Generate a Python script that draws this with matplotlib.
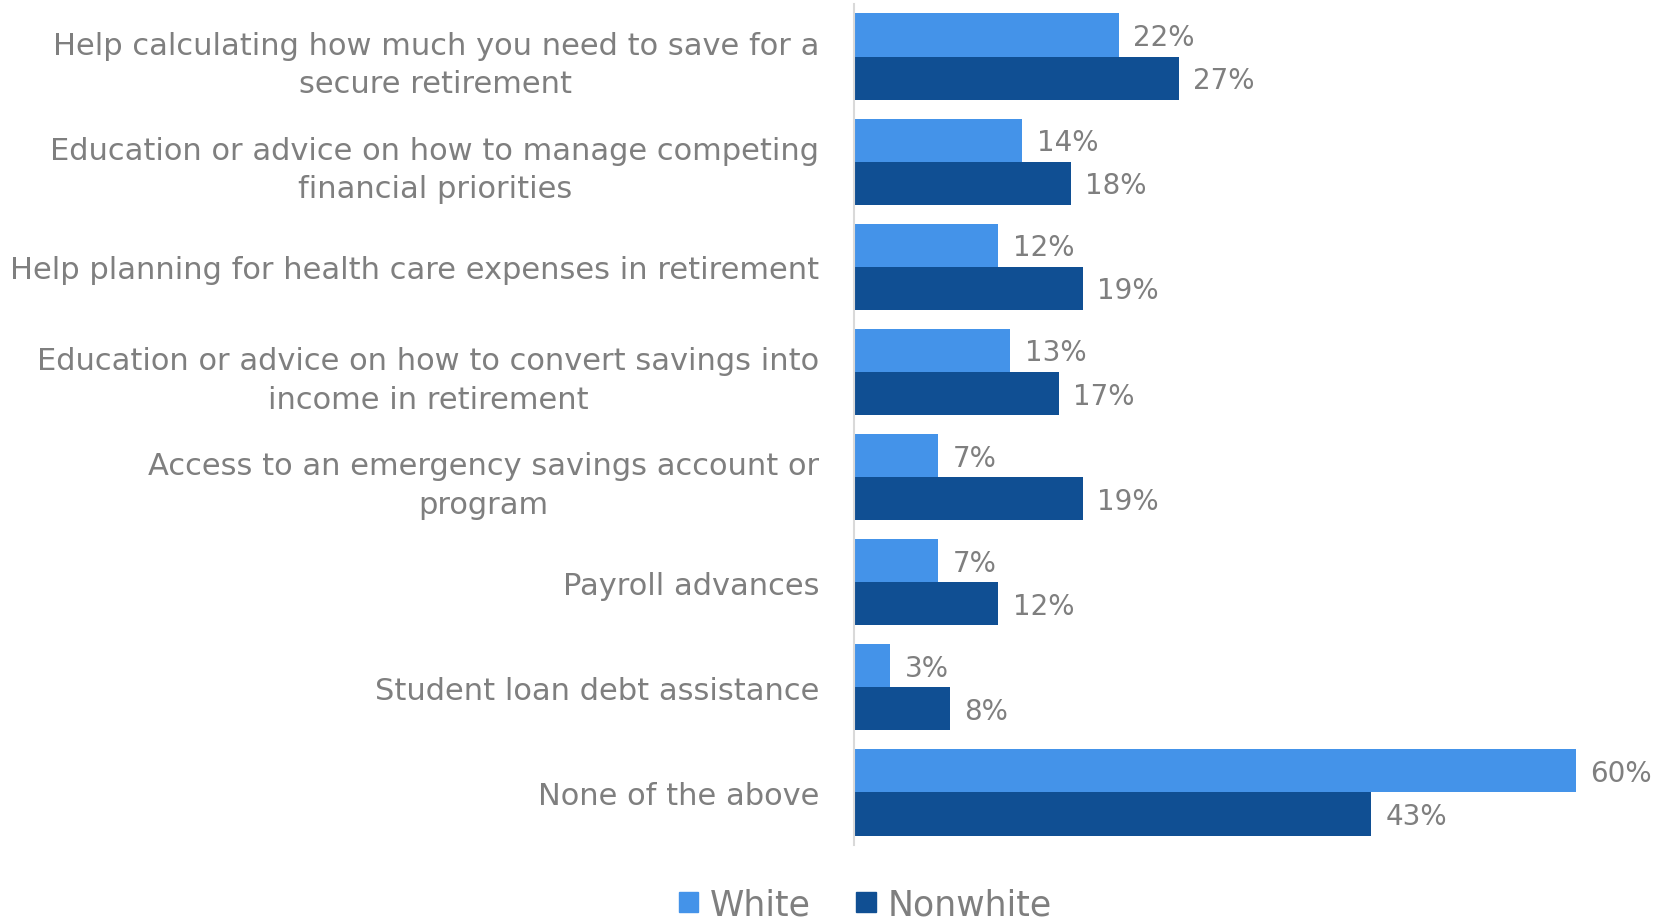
import numpy as np
import matplotlib
matplotlib.use('Agg')
import matplotlib.pyplot as plt
from matplotlib.patches import Patch

categories = ['Help calculating how much you need to save for a\nsecure retirement',
              'Education or advice on how to manage competing\nfinancial priorities',
              'Help planning for health care expenses in retirement',
              'Education or advice on how to convert savings into\nincome in retirement',
              'Access to an emergency savings account or\nprogram',
              'Payroll advances',
              'Student loan debt assistance',
              'None of the above']
white = [22, 14, 12, 13, 7, 7, 3, 60]
nonwhite = [27, 18, 19, 17, 19, 12, 8, 43]

c_white = '#4493E9'
c_nonwhite = '#104F93'
grey = '#7F7F7F'

plt.rcParams['font.family'] = ['DejaVu Sans']

fig = plt.figure(figsize=(16.58, 9.2), dpi=100)
ax = fig.add_axes([0.515, 0.0804, 0.485, 0.9142])

y = np.arange(len(categories))
h = 0.41
ax.barh(y - h/2, white, height=h, color=c_white, label='White')
ax.barh(y + h/2, nonwhite, height=h, color=c_nonwhite, label='Nonwhite')

for i in range(len(categories)):
    ax.text(white[i] + 1.2, y[i] - h/2 + 0.02, '%d%%' % white[i], va='center', ha='left',
            fontsize=20, color=grey)
    ax.text(nonwhite[i] + 1.2, y[i] + h/2 + 0.02, '%d%%' % nonwhite[i], va='center', ha='left',
            fontsize=20, color=grey)

ax.set_xlim(0, 66.8)
ax.set_ylim(7.5, -0.5)
ax.set_yticks(y)
ax.set_yticklabels(categories, fontsize=22, color=grey, multialignment='center', linespacing=1.42)
ax.tick_params(axis='y', length=0, pad=25)
ax.set_xticks([])
for s in ['top', 'right', 'bottom']:
    ax.spines[s].set_visible(False)
ax.spines['left'].set_color('#D9D9D9')
ax.spines['left'].set_linewidth(1.5)

handles = [Patch(color=c_white, label='White'), Patch(color=c_nonwhite, label='Nonwhite')]
fig.legend(handles=handles, loc='center', bbox_to_anchor=(0.522, 0.016), ncol=2, frameon=False,
           fontsize=25, labelcolor=grey, handlelength=0.55, handleheight=0.55, handletextpad=0.35,
           columnspacing=1.3)

fig.savefig('out.png', dpi=100)
